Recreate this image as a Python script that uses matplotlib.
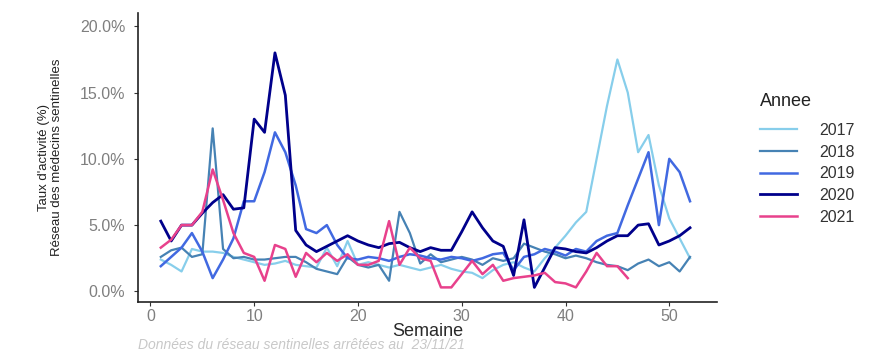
import numpy as np
import matplotlib.pyplot as plt
from matplotlib.ticker import FuncFormatter

weeks = list(range(1, 53))
years = ['2017', '2018', '2019', '2020', '2021']
colors = ['#87CEEB', '#4682B4', '#4169E1', '#00008B', '#E8418C']

taux_2017 = [2.4, 2.0, 1.5, 3.2, 3.0, 3.0, 2.9, 2.6, 2.4, 2.2, 2.0, 2.1, 2.3, 2.0, 1.9, 1.8, 3.3, 1.9, 3.8, 2.0,
             2.2, 2.0, 1.8, 2.0, 1.8, 1.6, 1.8, 2.0, 1.7, 1.5, 1.4, 1.0, 1.6, 2.0, 2.2, 1.8, 1.5, 2.5, 3.3, 4.2,
             5.2, 6.0, 10.0, 14.0, 17.5, 15.0, 10.5, 11.8, 8.0, 5.5, 4.0, 2.5]
taux_2018 = [2.6, 3.1, 3.3, 2.6, 2.8, 12.3, 3.2, 2.5, 2.6, 2.4, 2.4, 2.5, 2.6, 2.6, 2.2, 1.7, 1.5, 1.3, 2.6, 2.0,
             1.8, 2.0, 0.8, 6.0, 4.4, 2.1, 2.8, 2.2, 2.4, 2.6, 2.4, 2.0, 2.5, 2.3, 2.5, 3.6, 3.3, 3.0, 2.8, 2.5,
             2.7, 2.5, 2.2, 2.0, 1.9, 1.6, 2.1, 2.4, 1.9, 2.2, 1.5, 2.6]
taux_2019 = [1.9, 2.6, 3.3, 4.4, 3.0, 1.0, 2.4, 4.0, 6.8, 6.8, 9.0, 12.0, 10.5, 8.0, 4.7, 4.4, 5.0, 3.5, 2.5, 2.4,
             2.6, 2.5, 2.3, 2.6, 2.8, 2.7, 2.5, 2.4, 2.6, 2.5, 2.3, 2.5, 2.8, 2.9, 1.6, 2.6, 2.8, 3.2, 3.0, 2.7,
             3.2, 3.0, 3.8, 4.2, 4.4, 6.5, 8.5, 10.5, 5.0, 10.0, 9.0, 6.8]
taux_2020 = [5.3, 3.8, 5.0, 5.0, 5.9, 6.7, 7.3, 6.2, 6.3, 13.0, 12.0, 18.0, 14.8, 4.6, 3.5, 3.0, 3.4, 3.8, 4.2, 3.8,
             3.5, 3.3, 3.6, 3.7, 3.3, 3.0, 3.3, 3.1, 3.1, 4.5, 6.0, 4.8, 3.8, 3.4, 1.2, 5.4, 0.3, 1.8, 3.3, 3.2,
             3.0, 2.9, 3.3, 3.8, 4.2, 4.2, 5.0, 5.1, 3.5, 3.8, 4.2, 4.8]
taux_2021 = [3.3, 3.9, 5.0, 5.0, 6.0, 9.2, 6.9, 4.4, 2.9, 2.6, 0.8, 3.5, 3.2, 1.1, 2.9, 2.2, 2.9, 2.3, 2.8, 2.0,
             2.0, 2.3, 5.3, 2.0, 3.3, 2.5, 2.3, 0.3, 0.3, 1.3, 2.3, 1.3, 2.0, 0.8, 1.0, 1.1, 1.2, 1.4, 0.7, 0.6,
             0.3, 1.5, 2.9, 1.9, 1.9, 1.0]

series = [taux_2017, taux_2018, taux_2019, taux_2020, taux_2021]
widths = [1.6, 1.6, 1.8, 2.0, 1.8]

plt.rcParams['font.family'] = ['Liberation Sans', 'DejaVu Sans']

fig = plt.figure(figsize=(8.76, 3.54), dpi=100)
ax = fig.add_axes([0.1575, 0.147, 0.661, 0.816])

for year, vals, col, lw in zip(years, series, colors, widths):
    ax.plot(weeks[:len(vals)], vals, color=col, lw=lw, label=year)

ax.set_xlim(-1.2, 54.6)
ax.set_ylim(-0.8, 21.0)
ax.set_xticks([0, 10, 20, 30, 40, 50])
ax.set_yticks([0, 5, 10, 15, 20])
ax.yaxis.set_major_formatter(FuncFormatter(lambda v, p: f'{v:.1f}%'))
for s in ['top', 'right']:
    ax.spines[s].set_visible(False)
for s in ['left', 'bottom']:
    ax.spines[s].set_linewidth(1.2)
    ax.spines[s].set_color('#222222')
ax.tick_params(axis='both', length=3, color='#333333', labelcolor='#7f7f7f', labelsize=11.5)
ax.tick_params(axis='y', pad=6)
ax.tick_params(axis='x', pad=2)

ax.set_xlabel('Semaine', fontsize=13, color='#2a2a2a', labelpad=-1)
ax.set_ylabel("Taux d'activité (%)\nRéseau des médecins sentinelles", fontsize=9.5,
              color='#222222', labelpad=12, linespacing=1.1)

leg = ax.legend(title='Annee', loc='center left', bbox_to_anchor=(1.05, 0.495), frameon=False,
                fontsize=11.5, title_fontsize=13, handlelength=2.3, handletextpad=1.4,
                labelspacing=0.42)
leg._legend_box.align = 'left'
leg._legend_box.sep = 9
for t in leg.get_texts():
    t.set_color('#333333')
leg.get_title().set_color('#222222')

fig.text(0.158, 0.006, 'Données du réseau sentinelles arrêtées au  23/11/21', fontsize=10,
         style='italic', color='#c8c8c8', ha='left', va='bottom')

fig.savefig('out.png', dpi=100)
